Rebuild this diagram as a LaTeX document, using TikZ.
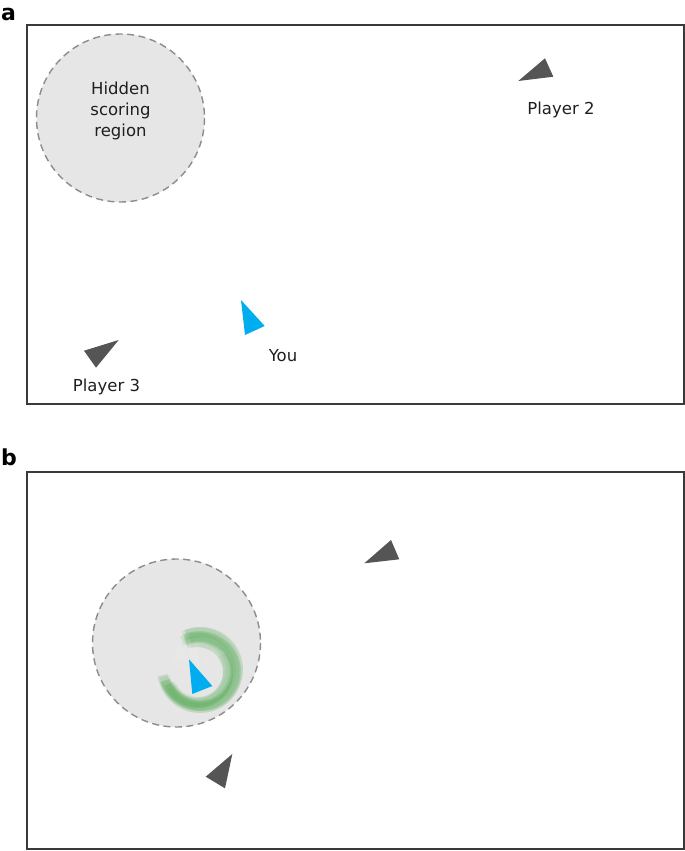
\documentclass[tikz,border=0pt]{standalone}
\usepackage{fontspec}
\setmainfont{DejaVu Sans}
\definecolor{framecol}{HTML}{3A3A3A}
\definecolor{zonefill}{HTML}{E6E6E6}
\definecolor{zonedash}{HTML}{8C8C8C}
\definecolor{playercol}{HTML}{555555}
\definecolor{youcol}{HTML}{00AEEF}
\definecolor{trailcol}{HTML}{4FA84F}
\tikzset{
  frame/.style={draw=framecol, line width=1.4pt},
  zone/.style={fill=zonefill, draw=zonedash, line width=1.4pt, dash pattern=on 7pt off 4.5pt},
  other/.style={fill=playercol, draw=none},
  me/.style={fill=youcol, draw=none},
  lbl/.style={font=\fontsize{16.5}{20.8}\selectfont, text=black!88, anchor=base, inner sep=0pt},
  panel/.style={font=\fontsize{22}{22}\selectfont\bfseries, anchor=base west, inner sep=0pt},
  trail/.style={draw=trailcol, line width=10pt, opacity=0.12}
}
\begin{document}
\begin{tikzpicture}[x=1pt,y=-1pt]
\useasboundingbox (0,0) rectangle (685,851);
% ---------- panel a ----------
\node[panel] (la) at (1,21) {a};
\draw[frame] (27,25) rectangle (684,404);
\draw[zone] (120.5,118) circle[radius=84];
\node[lbl, align=center, anchor=center] (zonetext) at (120.5,111) {Hidden\\scoring\\region};
\fill[other] (518.3,81) -- (545,58.3) -- (553.3,76.7) -- cycle;
\node[lbl] (p2) at (561,114) {Player 2};
\fill[other] (84,350.7) -- (118.7,340) -- (96,367.7) -- cycle;
\node[lbl] (p3) at (106.5,391) {Player 3};
\fill[me] (241,300) -- (264.7,326) -- (245,335) -- cycle;
\node[lbl] (you) at (283,361.5) {You};
% ---------- panel b ----------
\node[panel] (lb) at (1,465) {b};
\draw[frame] (27,472) rectangle (684,849);
\draw[zone] (176.5,643) circle[radius=84];
% trail
\begin{scope}
\foreach \cx/\cy/\r/\sa/\ea in {199/671/35/164/-114, 197/673/31/158/-110, 201/669/37/168/-118, 198/670/33/156/-112, 200/672/36/166/-106, 196/670/32.5/162/-116, 199/669/36.5/170/-110, 202/672/34/160/-120, 198/672/30/150/-104, 200/670/38/172/-112}{
  \draw[trail] (\cx,\cy) ++(\sa:\r) arc[start angle=\sa, end angle=\ea, radius=\r];
}
\fill[white, opacity=0.10] (199,671) -- ++(-150:28) -- ++(-80:14) -- cycle;
\fill[white, opacity=0.10] (199,671) -- ++(-120:28) -- ++(-20:14) -- cycle;
\fill[white, opacity=0.08] (199,671) -- ++(-60:28) -- ++(20:14) -- cycle;
\fill[white, opacity=0.08] (199,671) -- ++(-175:26) -- ++(-100:12) -- cycle;
\end{scope}
\fill[me] (189,659.3) -- (212.3,686) -- (192.3,694) -- cycle;
\fill[other] (364.3,563.3) -- (391,540) -- (399.3,559.3) -- cycle;
\fill[other] (232.3,754) -- (205.7,776.7) -- (225,788.3) -- cycle;
\end{tikzpicture}
\end{document}
